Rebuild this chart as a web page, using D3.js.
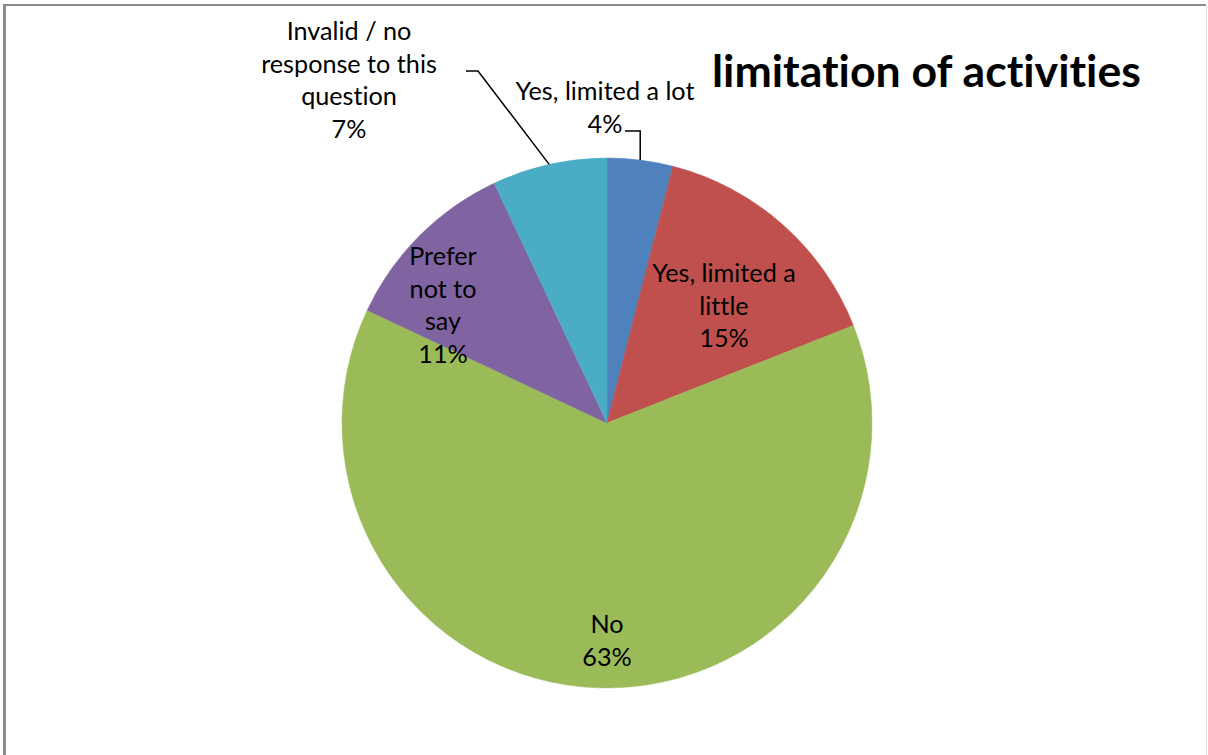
<!DOCTYPE html>
<html>
<head>
<meta charset="utf-8">
<script src="https://cdn.jsdelivr.net/npm/d3@7"></script>
<style>
  html, body { margin: 0; padding: 0; background: #fff; }
  svg { display: block; }
  text { font-family: Lato, "Open Sans", "Liberation Sans", sans-serif; fill: #000;
         font-variant-ligatures: none; font-feature-settings: "liga" 0, "clig" 0; }
</style>
</head>
<body>
<svg id="chart" width="1208" height="755"></svg>
<script>
// Survey responses: limitation of activities (percent of respondents)
const categories = [
  "Yes, limited a lot",
  "Yes, limited a little",
  "No",
  "Prefer not to say",
  "Invalid / no response to this question"
];
const values = [4, 15, 63, 11, 7];
const colors = ["#4F81BD", "#C0504D", "#9BBB59", "#8064A2", "#4BACC6"];
// How each category name wraps inside its data label
const labelLines = [
  ["Yes, limited a lot"],
  ["Yes, limited a", "little"],
  ["No"],
  ["Prefer", "not to", "say"],
  ["Invalid / no", "response to this", "question"]
];
const title = "limitation of activities";

// ---- layout ----
const W = 1208, H = 755;
const cx = 607, cy = 423, R = 265;
const lineH = 32.5;
const labelFont = 25.2, titleFont = 44.6;
// label block: centre x and first-line baseline, relative to the pie centre
const labelAnchor = [
  { dx: -2,   dy: -323, leader: { sx: 18, sy: -292, elbow: "vertical" } },
  { dx: 117,  dy: -141 },
  { dx: 0,    dy: 210 },
  { dx: -164, dy: -158 },
  { dx: -258, dy: -383, leader: { sx: -141, sy: -352, elbow: 12 } }
];

const svg = d3.select("#chart");

// frame
svg.append("line").attr("x1", 4.5).attr("y1", 5).attr("x2", 4.5).attr("y2", H)
  .attr("stroke", "#8c8c8c").attr("stroke-width", 3);
svg.append("line").attr("x1", 3).attr("y1", 5).attr("x2", 1206).attr("y2", 5)
  .attr("stroke", "#8c8c8c").attr("stroke-width", 2);
svg.append("line").attr("x1", 1206.5).attr("y1", 6).attr("x2", 1206.5).attr("y2", H)
  .attr("stroke", "#dcdcdc").attr("stroke-width", 1);

const data = categories.map((c, i) => ({ name: c, value: values[i], color: colors[i], lines: labelLines[i], anchor: labelAnchor[i] }));

const pie = d3.pie().value(d => d.value).sort(null).startAngle(0).endAngle(2 * Math.PI);
const arc = d3.arc().innerRadius(0).outerRadius(R);
const arcs = pie(data);

const g = svg.append("g").attr("transform", `translate(${cx},${cy})`);

g.selectAll("path.slice")
  .data(arcs)
  .join("path")
  .attr("class", "slice")
  .attr("d", arc)
  .attr("fill", d => d.data.color)
  .attr("stroke", d => d.data.color)
  .attr("stroke-width", 0.5);

// data labels
const fmt = v => d3.format(".0f")(v) + "%";
const labels = g.selectAll("text.label")
  .data(arcs)
  .join("text")
  .attr("class", "label")
  .attr("text-anchor", "middle")
  .style("font-size", labelFont + "px");

labels.each(function (d) {
  const t = d3.select(this);
  const a = d.data.anchor;
  const lines = d.data.lines.concat([fmt(d.data.value)]);
  lines.forEach((ln, k) => {
    t.append("tspan").attr("x", a.dx).attr("y", a.dy + k * lineH).text(ln);
  });
});

// leader lines from labels to the slice edge
arcs.forEach(d => {
  const L = d.data.anchor.leader;
  if (!L) return;
  const mid = (d.startAngle + d.endAngle) / 2;
  const px = R * Math.sin(mid), py = -R * Math.cos(mid);
  const ex = L.elbow === "vertical" ? px : L.sx + L.elbow;
  g.append("path")
    .attr("d", `M${L.sx},${L.sy}H${ex}L${px},${py}`)
    .attr("fill", "none")
    .attr("stroke", "#000")
    .attr("stroke-width", 1.5);
});

// title
svg.append("text")
  .attr("x", 712).attr("y", 87)
  .style("font-size", titleFont + "px")
  .style("font-weight", "bold")
  .text(title);
</script>
</body>
</html>
